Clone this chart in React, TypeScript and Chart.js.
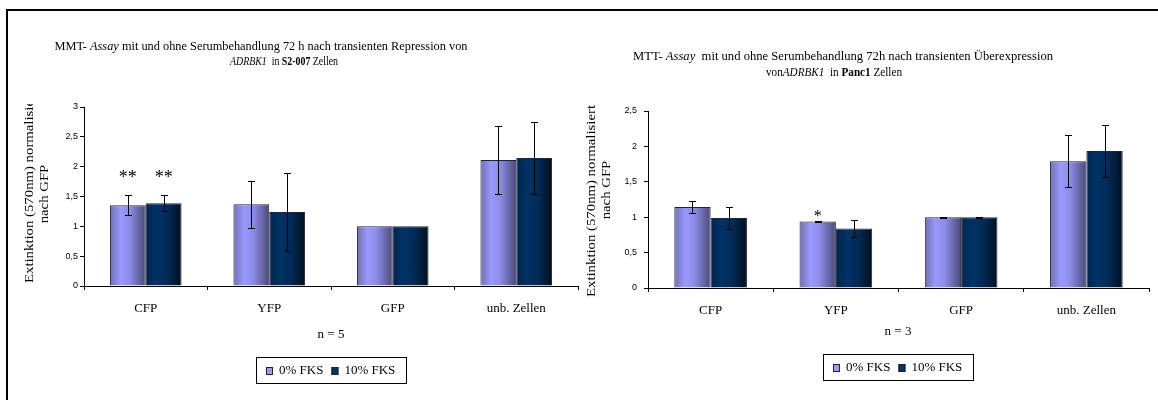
import React, { useEffect, useRef } from "react";
import { Chart, registerables } from "chart.js";

Chart.register(...registerables);

// ---------- DATA ----------
const categories = ["CFP", "YFP", "GFP", "unb. Zellen"];
const seriesNames = ["0% FKS", "10% FKS"];

// left chart: S2-007, n = 5
const leftFks0 = [1.355, 1.37, 1.0, 2.11];
const leftFks0Err = [0.165, 0.39, 0, 0.57];
const leftFks10 = [1.385, 1.24, 1.0, 2.145];
const leftFks10Err = [0.135, 0.66, 0, 0.605];
const leftSig0 = ["**", "", "", ""];
const leftSig10 = ["**", "", "", ""];
const leftTickLabels = ["0", "0,5", "1", "1,5", "2", "2,5", "3"];
const leftMax = 3;

// right chart: Panc1, n = 3
const rightFks0 = [1.145, 0.94, 1.0, 1.79];
const rightFks0Err = [0.085, 0.01, 0.005, 0.37];
const rightFks10 = [0.99, 0.84, 1.0, 1.935];
const rightFks10Err = [0.15, 0.125, 0.005, 0.365];
const rightSig0 = ["", "*", "", ""];
const rightSig10 = ["", "", "", ""];
const rightTickLabels = ["0", "0,5", "1", "1,5", "2", "2,5"];
const rightMax = 2.5;

// ---------- STYLE ----------
const SERIF = '"Liberation Serif", "Times New Roman", serif';
const SANS = '"Liberation Sans", Arial, sans-serif';
const LIGHT_STOPS: [number, string][] = [
  [0, "#7070b0"],
  [0.3, "#9999ff"],
  [0.55, "#8c8ce8"],
  [1, "#4a4a78"],
];
const DARK_STOPS: [number, string][] = [
  [0, "#00264c"],
  [0.3, "#003366"],
  [0.6, "#002b57"],
  [1, "#000f1e"],
];
const BAR_BORDER = "#22223a";

type Seg = { t: string; s?: "i" | "b" };

function segFont(sg: Seg, size: number) {
  return `${sg.s === "i" ? "italic " : ""}${sg.s === "b" ? "bold " : ""}${size}px ${SERIF}`;
}

function drawRich(ctx: CanvasRenderingContext2D, segs: Seg[], cx: number, cy: number, size: number, target?: number) {
  ctx.save();
  const ws: number[] = [];
  let w = 0;
  for (const sg of segs) {
    ctx.font = segFont(sg, size);
    const m = ctx.measureText(sg.t).width;
    ws.push(m);
    w += m;
  }
  const sx = target ? target / w : 1;
  ctx.translate(cx, cy);
  ctx.scale(sx, 1);
  ctx.textBaseline = "middle";
  ctx.textAlign = "left";
  ctx.fillStyle = "#000";
  let x = -w / 2;
  segs.forEach((sg, i) => {
    ctx.font = segFont(sg, size);
    ctx.fillText(sg.t, x, 0);
    x += ws[i];
  });
  ctx.restore();
}

const decorPlugin = {
  id: "decor",
  afterDraw(chart: any, _args: any, o: any) {
    const ctx: CanvasRenderingContext2D = chart.ctx;
    ctx.save();
    for (const line of o.title) drawRich(ctx, line.segs, line.cx, line.cy, line.size, line.width);
    ctx.font = `${o.yTitle.size}px ${SERIF}`;
    const natural = ctx.measureText(o.yTitle.lines[0]).width;
    const sc = o.yTitle.len / natural;
    ctx.save();
    ctx.beginPath();
    ctx.rect(0, o.yTitle.clipTop, chart.width, chart.height);
    ctx.clip();
    ctx.fillStyle = "#000";
    ctx.textBaseline = "middle";
    ctx.save();
    ctx.translate(o.yTitle.x1, o.yTitle.start1);
    ctx.rotate(-Math.PI / 2);
    ctx.scale(sc, 1);
    ctx.textAlign = "left";
    ctx.fillText(o.yTitle.lines[0], 0, 0);
    ctx.restore();
    ctx.save();
    ctx.translate(o.yTitle.x2, o.yTitle.center2);
    ctx.rotate(-Math.PI / 2);
    ctx.scale(sc, 1);
    ctx.textAlign = "center";
    ctx.fillText(o.yTitle.lines[1], 0, 0);
    ctx.restore();
    ctx.restore();
    ctx.font = `13px ${SERIF}`;
    ctx.fillStyle = "#000";
    ctx.textAlign = "center";
    ctx.textBaseline = "middle";
    ctx.fillText(o.note.text, o.note.x, o.note.y);
    const L = o.legend;
    ctx.strokeStyle = "#000";
    ctx.lineWidth = 1;
    ctx.strokeRect(L.x + 0.5, L.y + 0.5, L.w, L.h);
    ctx.font = `13px ${SERIF}`;
    const mW = 7, mH = 8, gap = 6, itemGap = 8;
    const tws = seriesNames.map((n) => ctx.measureText(n).width);
    const total = tws.reduce((a, b) => a + b, 0) + seriesNames.length * (mW + gap) + itemGap * (seriesNames.length - 1);
    let x = Math.round(L.x + (L.w - total) / 2);
    const cy = L.y + L.h / 2 + 0.5;
    const fills = ["#9999ff", "#003366"];
    seriesNames.forEach((n, i) => {
      ctx.fillStyle = fills[i];
      ctx.fillRect(x, Math.round(cy - mH / 2), mW, mH);
      ctx.strokeStyle = "#222";
      ctx.strokeRect(x + 0.5, Math.round(cy - mH / 2) + 0.5, mW - 1, mH - 1);
      x += mW + gap;
      ctx.fillStyle = "#000";
      ctx.textAlign = "left";
      ctx.fillText(n, x, cy);
      x += tws[i] + itemGap;
    });
    ctx.restore();
  },
};

const gradientPlugin = {
  id: "barGradient",
  beforeDatasetsDraw(chart: any) {
    const ctx: CanvasRenderingContext2D = chart.ctx;
    chart.data.datasets.forEach((ds: any, di: number) => {
      const meta = chart.getDatasetMeta(di);
      const stops = ds.tone === "light" ? LIGHT_STOPS : DARK_STOPS;
      meta.data.forEach((el: any) => {
        const { x, width } = el.getProps(["x", "width"], true);
        const g = ctx.createLinearGradient(x - width / 2, 0, x + width / 2, 0);
        stops.forEach(([off, c]) => g.addColorStop(off, c));
        el.options = Object.assign({}, el.options, { backgroundColor: g, borderColor: BAR_BORDER });
      });
    });
  },
};

const errorPlugin = {
  id: "errbars",
  afterDatasetsDraw(chart: any, _args: any, o: any) {
    const ctx: CanvasRenderingContext2D = chart.ctx;
    const ys = chart.scales.y;
    ctx.save();
    ctx.strokeStyle = "#000";
    ctx.fillStyle = "#000";
    ctx.lineWidth = 1;
    chart.data.datasets.forEach((ds: any, di: number) => {
      const meta = chart.getDatasetMeta(di);
      meta.data.forEach((el: any, i: number) => {
        const v = ds.data[i];
        const e = ds.errors[i];
        const x = Math.round(el.x) + 0.5;
        const top = Math.round(ys.getPixelForValue(v + e)) + 0.5;
        const bot = Math.round(ys.getPixelForValue(v - e)) + 0.5;
        if (e > 0) {
          ctx.beginPath();
          ctx.moveTo(x, top);
          ctx.lineTo(x, bot);
          ctx.moveTo(x - 3.5, top);
          ctx.lineTo(x + 3.5, top);
          ctx.moveTo(x - 3.5, bot);
          ctx.lineTo(x + 3.5, bot);
          ctx.stroke();
        }
        const s = ds.sig[i];
        if (s) {
          ctx.font = `${o.starSize}px ${SERIF}`;
          ctx.textAlign = "center";
          ctx.textBaseline = "alphabetic";
          ctx.fillText(s, el.x, top + o.starOffset);
        }
      });
    });
    ctx.restore();
  },
};

function makeConfig(p: any): any {
  return {
    type: "bar",
    data: {
      labels: categories,
      datasets: [
        { label: seriesNames[0], data: p.v0, errors: p.e0, sig: p.s0, tone: "light", backgroundColor: "#9999ff", borderColor: BAR_BORDER },
        { label: seriesNames[1], data: p.v1, errors: p.e1, sig: p.s1, tone: "dark", backgroundColor: "#003366", borderColor: BAR_BORDER },
      ],
    },
    plugins: [gradientPlugin, errorPlugin, decorPlugin],
    options: {
      responsive: false,
      animation: false,
      events: [],
      layout: { padding: { left: 0, right: p.padRight, top: p.padTop, bottom: p.padBottom } },
      datasets: {
        bar: {
          categoryPercentage: 0.58,
          barPercentage: 1,
          borderWidth: 1,
        },
      },
      plugins: {
        colors: { enabled: false },
        legend: { display: false },
        tooltip: { enabled: false },
        title: { display: false },
        errbars: { starSize: p.starSize, starOffset: p.starOffset },
        decor: p.decor,
      },
      scales: {
        x: {
          grid: { offset: true, drawOnChartArea: false, drawTicks: true, tickLength: 4, color: "#000" },
          border: { color: "#000" },
          ticks: { color: "#000", font: { family: SERIF, size: 13 }, padding: 11, maxRotation: 0, autoSkip: false },
          afterFit: (s: any) => {
            s.height = 34;
          },
        },
        y: {
          min: 0,
          max: p.max,
          ticks: {
            stepSize: 0.5,
            color: "#000",
            font: { family: SANS, size: 9 },
            padding: p.yPad,
            callback: (_v: any, i: number) => p.tickLabels[i] ?? "",
          },
          grid: { drawOnChartArea: false, tickLength: 4, color: "#000" },
          border: { color: "#000" },
          afterFit: (s: any) => {
            s.width = p.yWidth;
          },
        },
      },
    },
  };
}

const leftParams = {
  v0: leftFks0, e0: leftFks0Err, s0: leftSig0,
  v1: leftFks10, e1: leftFks10Err, s1: leftSig10,
  tickLabels: leftTickLabels, max: leftMax,
  padRight: 1, padTop: 107, padBottom: 80, yWidth: 84, yPad: 2,
  starSize: 18, starOffset: -13,
  decor: {
    title: [
      { segs: [{ t: "MMT- " }, { t: "Assay", s: "i" }, { t: " mit und ohne Serumbehandlung 72 h nach transienten Repression von" }], cx: 261, cy: 47, size: 11.5, width: 413 },
      { segs: [{ t: "ADRBK1", s: "i" }, { t: "  in " }, { t: "S2-007", s: "b" }, { t: " Zellen" }], cx: 284, cy: 62, size: 12, width: 108 },
    ],
    yTitle: { lines: ["Extinktion (570nm) normalisiert", "nach GFP"], size: 12, len: 192, x1: 30, start1: 283, x2: 45, center2: 194, clipTop: 104 },
    note: { text: "n = 5", x: 331, y: 335 },
    legend: { x: 256, y: 357, w: 150, h: 26 },
  },
};

const rightParams = {
  v0: rightFks0, e0: rightFks0Err, s0: rightSig0,
  v1: rightFks10, e1: rightFks10Err, s1: rightSig10,
  tickLabels: rightTickLabels, max: rightMax,
  padRight: 9, padTop: 111, padBottom: 78, yWidth: 69, yPad: 7,
  starSize: 16, starOffset: -1,
  decor: {
    title: [
      { segs: [{ t: "MTT- " }, { t: "Assay", s: "i" }, { t: "  mit und ohne Serumbehandlung 72h nach transienten Überexpression" }], cx: 264, cy: 57, size: 11.5, width: 420 },
      { segs: [{ t: "von" }, { t: "ADRBK1", s: "i" }, { t: "  in " }, { t: "Panc1", s: "b" }, { t: " Zellen" }], cx: 255, cy: 73, size: 11.5, width: 136 },
    ],
    yTitle: { lines: ["Extinktion (570nm) normalisiert", "nach GFP"], size: 12, len: 192, x1: 13, start1: 297, x2: 28, center2: 190, clipTop: 0 },
    note: { text: "n = 3", x: 319, y: 332 },
    legend: { x: 244, y: 354, w: 150, h: 26 },
  },
};

function ChartCanvas({ params, left }: { params: any; left: number }) {
  const ref = useRef<HTMLCanvasElement | null>(null);
  useEffect(() => {
    if (!ref.current) return;
    const chart = new Chart(ref.current, makeConfig(params));
    return () => chart.destroy();
  }, [params]);
  return (
    <canvas
      ref={ref}
      width={579}
      height={400}
      style={{ position: "absolute", left, top: 0, width: 579, height: 400, display: "block" }}
    />
  );
}

export default function App() {
  return (
    <div style={{ position: "absolute", left: 0, top: 0, width: 1158, height: 400, background: "#fff", overflow: "hidden" }}>
      <ChartCanvas params={leftParams} left={0} />
      <ChartCanvas params={rightParams} left={579} />
      <div
        style={{
          position: "absolute",
          left: 6,
          top: 9,
          width: 1152,
          height: 391,
          borderTop: "2px solid #000",
          borderLeft: "2px solid #000",
          boxSizing: "border-box",
          pointerEvents: "none",
        }}
      />
    </div>
  );
}
